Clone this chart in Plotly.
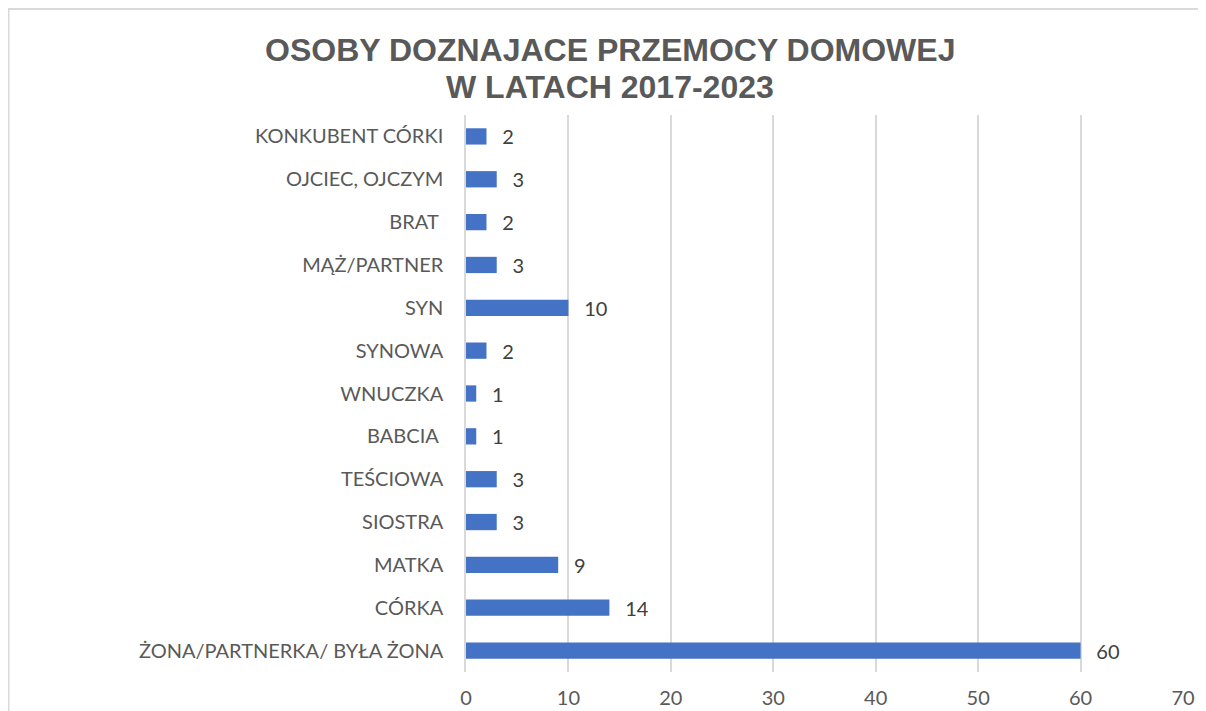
import plotly.graph_objects as go

categories = ["ŻONA/PARTNERKA/ BYŁA ŻONA", "CÓRKA", "MATKA", "SIOSTRA", "TEŚCIOWA",
              "BABCIA ", "WNUCZKA", "SYNOWA", "SYN", "MĄŻ/PARTNER", "BRAT ",
              "OJCIEC, OJCZYM", "KONKUBENT CÓRKI"]
values = [60, 14, 9, 3, 3, 1, 1, 2, 10, 3, 2, 3, 2]
x_ticks = [0, 10, 20, 30, 40, 50, 60, 70]
title_lines = ["OSOBY DOZNAJACE PRZEMOCY DOMOWEJ", "W LATACH 2017-2023"]

# page body has an 8px margin; figure coordinates are screen - 8
W, H = 1206, 711
L, R, T, B = 458, 31, 107, 47
pw = W - L - R
ph = H - T - B

FONT = "Lato, Carlito, sans-serif"

fig = go.Figure(go.Bar(
    y=categories, x=values, orientation="h",
    marker=dict(color="#4472C4", line=dict(width=0)),
    text=["\u00a0\u00a0\u2009" + str(v) for v in values], textposition="outside",
    constraintext="none",
    textfont=dict(family=FONT, size=20, color="#404040"),
    cliponaxis=False,
))

fig.add_shape(type="rect", xref="paper", yref="paper",
              x0=(0.5 - L) / pw, x1=(W + 20 - L) / pw,
              y0=(H - B - (H + 20)) / ph, y1=(H - B - 1) / ph,
              line=dict(color="#d9d9d9", width=2), layer="below")

for line, yc in zip(title_lines, [42, 79]):
    fig.add_annotation(text=line, xref="paper", yref="paper",
                       x=(602 - L) / pw, y=(H - B - yc) / ph,
                       xanchor="center", yanchor="middle", showarrow=False,
                       font=dict(family="Liberation Sans, Arial, sans-serif",
                                 size=32, color="#595959", weight="bold"))

fig.update_layout(
    width=W, height=H,
    margin=dict(l=L, r=R, t=T, b=B),
    paper_bgcolor="white", plot_bgcolor="white",
    bargap=0.62,
    showlegend=False,
    xaxis=dict(range=[0, 70], tickvals=x_ticks, showgrid=True, gridcolor="#d9d9d9",
               gridwidth=1.5, zeroline=False, showline=False, ticks="", automargin=False,
               tickfont=dict(family=FONT, size=20, color="#595959"),
               ticklabelstandoff=12),
    yaxis=dict(showgrid=False, zeroline=False, showline=True, linecolor="#d9d9d9", linewidth=1.5,
               ticks="", automargin=False,
               tickfont=dict(family=FONT, size=20, color="#595959"),
               ticklabelstandoff=17),
)

fig.write_html("out.html")
